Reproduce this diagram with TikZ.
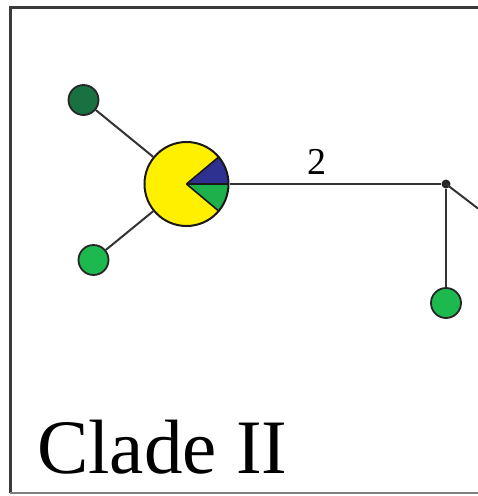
\documentclass[tikz,border=0pt]{standalone}
\usepackage{fontspec}
\setmainfont{Liberation Serif}
\definecolor{pieyellow}{HTML}{FFF000}
\definecolor{pieblue}{HTML}{2E3192}
\definecolor{piegreen}{HTML}{1DB14B}
\definecolor{darkgreen}{HTML}{197040}
\definecolor{brightgreen}{HTML}{1CBA4E}
\definecolor{edgegrey}{HTML}{333333}
\definecolor{framegrey}{HTML}{3A3A3A}
\begin{document}
\begin{tikzpicture}[x=1pt,y=1pt,
  hap/.style={circle,draw=black!85,line width=1.8pt,minimum size=30pt,inner sep=0pt},
  link/.style={draw=edgegrey,line width=2pt},
  lbl/.style={font=\fontsize{38}{40}\selectfont,inner sep=0pt}]
\useasboundingbox (0,0) rectangle (478,-496);
\fill[white] (0,0) rectangle (478,-496);
% frame
\draw[framegrey,line width=3pt] (10,-493) -- (10,-7) -- (478,-7);
\draw[gray,line width=2pt] (10,-493) -- (478,-493);
% nodes
\node[circle,draw=black!90,line width=2pt,minimum size=84pt,inner sep=0pt,
  path picture={
    \coordinate (pc) at (path picture bounding box.center);
    \fill[pieyellow] (pc) -- ++(40:70) arc (40:320:70) -- cycle;
    \fill[pieblue] (pc) -- ++(0:70) arc (0:40:70) -- cycle;
    \fill[piegreen] (pc) -- ++(-40:70) arc (-40:0:70) -- cycle;
    \draw[black!90,line width=1.6pt] (pc) -- ++(40:70) (pc) -- ++(0:70) (pc) -- ++(-40:70);
  }] (hub) at (186.5,-184) {};
\node[hap,fill=darkgreen] (ul) at (83.5,-100) {};
\node[hap,fill=brightgreen] (ll) at (93.5,-260) {};
\node[hap,fill=brightgreen] (lr) at (446,-303) {};
\node[circle,fill=black!85,minimum size=9pt,inner sep=0pt] (junc) at (446,-184) {};
\coordinate (out) at (478,-208.5);
\node[lbl] (two) at (317,-161.5) {2};
\node[font=\fontsize{77}{80}\selectfont,inner sep=0pt,anchor=base west] (clade) at (37,-473) {Clade II};
% connectors
\draw[link] (ul) -- (hub);
\draw[link] (ll) -- (hub);
\draw[link] (hub.east) -- (junc);
\draw[link] (junc) -- (lr);
\draw[link] (junc.center) -- (out);
\end{tikzpicture}
\end{document}
